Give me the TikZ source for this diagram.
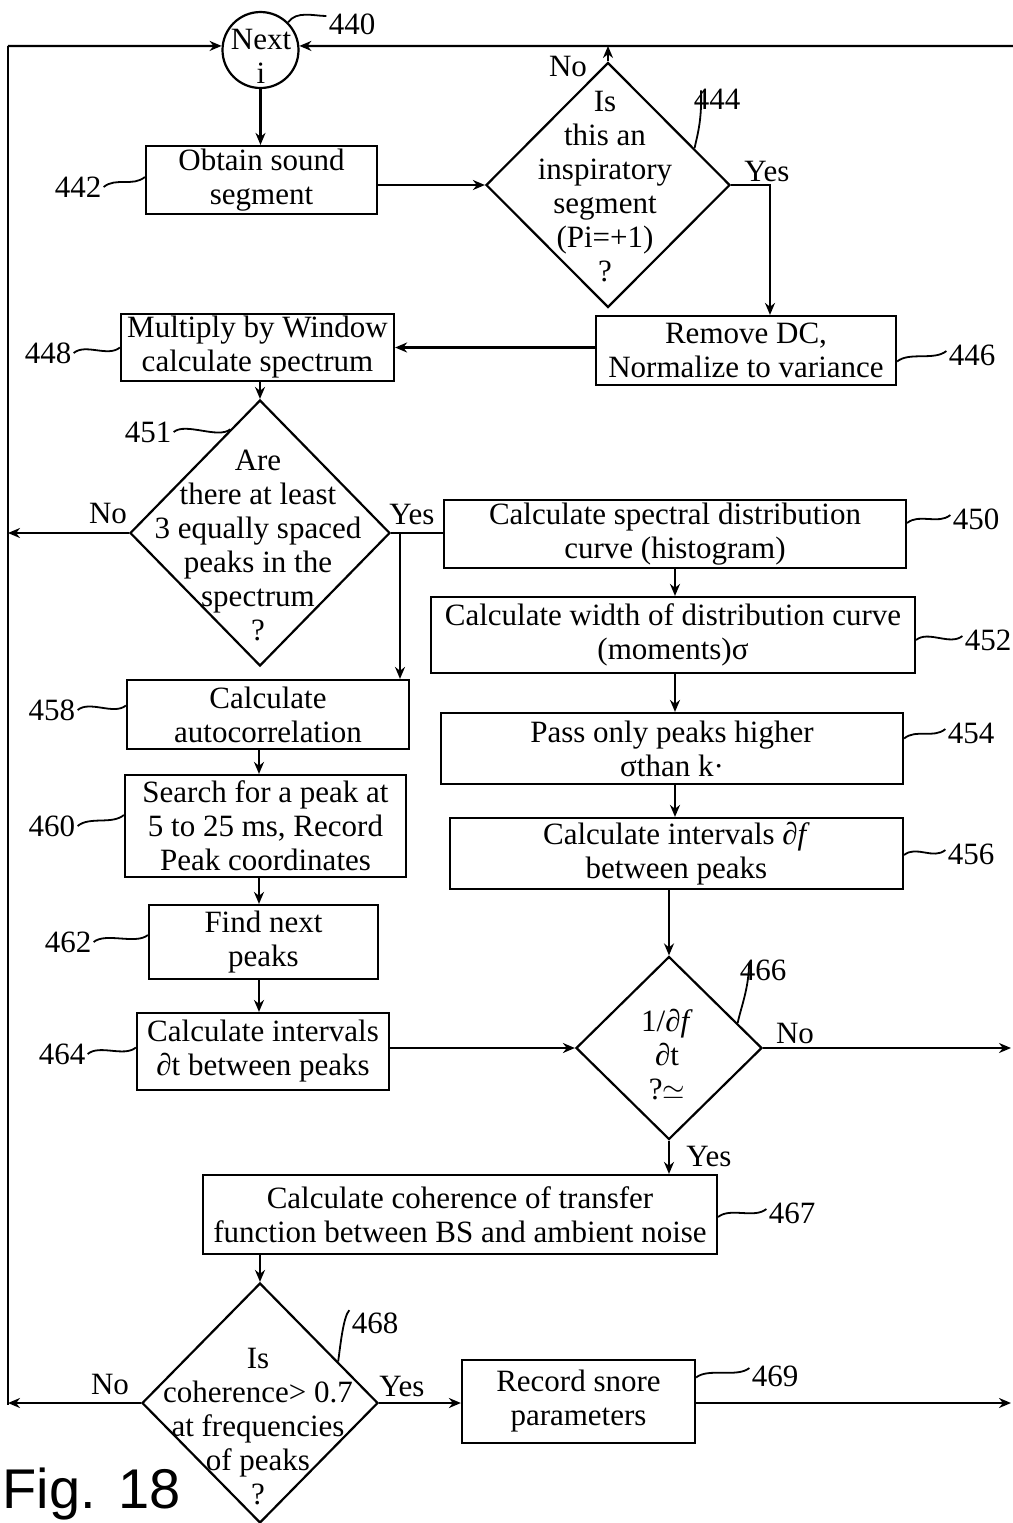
\documentclass[tikz,border=0pt]{standalone}
\usepackage{fontspec}
\setmainfont{Liberation Serif}
\newfontfamily\figsans{Liberation Sans}
\usetikzlibrary{shapes.geometric,arrows.meta}
\newcommand\myfs{\fontsize{15.5}{17}\selectfont}
\begin{document}
\begin{tikzpicture}[x=0.5pt,y=-0.5pt,
  box/.style={draw,line width=1.1pt,inner sep=0pt,align=center,font=\myfs},
  dia/.style={draw,diamond,line width=1.1pt,inner sep=0pt},
  txt/.style={align=center,font=\myfs,inner sep=0pt},
  num/.style={font=\myfs,inner sep=1pt},
  conn/.style={line width=1.1pt},
  arr/.style={conn,-{Stealth[length=6pt,width=5pt]}},
  lead/.style={line width=0.9pt},
  figt/.style={font=\figsans\fontsize{28}{30}\selectfont,anchor=base west,inner sep=0pt}]
\clip (0,0) rectangle (1013,1523);
\fill[white] (0,0) rectangle (1013,1523);

% ---------- main nodes ----------
\node[draw,circle,line width=1.1pt,minimum size=38pt,inner sep=0pt] (c440) at (260.5,50) {};
\node[txt] (t440) at (261,56) {Next\\i};

\node[box,minimum width=115.5pt,minimum height=34pt] (b442) at (261.5,180) {Obtain sound\\segment};
\node[dia,minimum width=122pt,minimum height=122.5pt] (d444) at (608,185) {};
\node[txt] (t444) at (605,187) {Is\\this an\\inspiratory\\segment\\(Pi=+1)\\?};

\node[box,minimum width=150pt,minimum height=34.5pt] (b446) at (746,350.5) {Remove DC,\\Normalize to variance};
\node[box,minimum width=136.5pt,minimum height=33.5pt] (b448) at (257.5,347.5) {Multiply by Window\\calculate spectrum};

\node[dia,minimum width=130pt,minimum height=133pt] (d451) at (260,533) {};
\node[txt] (t451) at (258,545) {Are\\there at least\\3 equally spaced\\peaks in the\\spectrum\\?};

\node[box,minimum width=231pt,minimum height=34pt] (b450) at (675,534) {Calculate spectral distribution\\curve (histogram)};
\node[box,minimum width=242pt,minimum height=38pt] (b452) at (673,635) {Calculate width of distribution curve\\(moments)σ};
\node[box,minimum width=231pt,minimum height=35.5pt] (b454) at (672,748.5) {Pass only peaks higher\\σthan k·};
\node[box,minimum width=226.5pt,minimum height=35.5pt] (b456) at (676.5,853.5) {Calculate intervals ∂\textit{f}\\between peaks};

\node[box,minimum width=141pt,minimum height=34.5pt] (b458) at (268,714.5) {Calculate\\autocorrelation};
\node[box,minimum width=140.5pt,minimum height=51pt] (b460) at (265.5,826) {Search for a peak at\\5 to 25 ms, Record\\Peak coordinates};
\node[box,minimum width=114.5pt,minimum height=37pt] (b462) at (263.5,942) {Find next\\peaks};
\node[box,minimum width=126pt,minimum height=38.5pt] (b464) at (263,1051.5) {Calculate intervals\\∂t between peaks};

\node[dia,minimum width=93pt,minimum height=91.5pt] (d466) at (669,1048) {};
\node[txt] (t466) at (667,1055) {1/∂\textit{f}\\∂t\\?$\simeq$};

\node[box,minimum width=257pt,minimum height=39.5pt] (b467) at (460,1214.5) {Calculate coherence of transfer\\function between BS and ambient noise};

\node[dia,minimum width=118pt,minimum height=120pt] (d468) at (260,1403) {};
\node[txt] (t468) at (258,1427) {Is\\coherence> 0.7\\at frequencies\\of peaks\\?};

\node[box,minimum width=116.5pt,minimum height=41.5pt] (b469) at (578.5,1401.5) {Record snore\\parameters};

% ---------- helper coordinates ----------
\coordinate (L) at (8,0);
\coordinate (R) at (1011,0);
\coordinate (colL) at (259,0);
\coordinate (tl) at (8,46);
\coordinate (tr) at (1013,46);
\coordinate (bl) at (8,1405);
\coordinate (yb) at (400,533);

% ---------- connectors ----------
\draw[conn] (tl) -- (bl);
\draw[arr] (tl) -- (c440.174);
\draw[arr] (tr) -- (c440.6);
\draw[arr] (c440.south) -- (b442.north -| c440.south);
\draw[arr] (b442.east |- d444.west) -- (d444.west);
\draw[arr] (d444.north) -- (d444.north |- tr);
\draw[arr] (d444.east) -| ([xshift=12pt]b446.north);
\draw[arr] (b446.west |- b448.east) -- (b448.east);
\draw[arr] (b448.south -| d451.north) -- (d451.north);
\draw[arr] (d451.west) -- (d451.west -| L);
\draw[conn] (d451.east) -- (d451.east -| b450.west);
\draw[arr] (yb) -- (yb |- b458.north);
\draw[arr] (b450.south) -- (b450.south |- b452.north);
\draw[arr] (b452.south -| b450.south) -- (b454.north -| b450.south);
\draw[arr] (b454.south -| b450.south) -- (b456.north -| b450.south);
\draw[arr] (d466.north |- b456.south) -- (d466.north);
\draw[arr] (b458.south -| colL) -- (b460.north -| colL);
\draw[arr] (b460.south -| colL) -- (b462.north -| colL);
\draw[arr] (b462.south -| colL) -- (b464.north -| colL);
\draw[arr] (b464.east |- d466.west) -- (d466.west);
\draw[arr] (d466.east) -- (d466.east -| R);
\draw[arr] (d466.south) -- (d466.south |- b467.north);
\draw[arr] (b467.south -| d468.north) -- (d468.north);
\draw[arr] (d468.west) -- (d468.west -| L);
\draw[arr] (d468.east) -- (b469.west |- d468.east);
\draw[arr] (b469.east |- d468.east) -- (R |- d468.east);

% ---------- yes / no ----------
\node[txt] (no444) at (568,66) {No};
\node[txt] (yes444) at (767,171) {Yes};
\node[txt] (no451) at (108,513) {No};
\node[txt] (yes451) at (412,514) {Yes};
\node[txt] (no466) at (795,1033) {No};
\node[txt] (yes466) at (709,1156) {Yes};
\node[txt] (no468) at (110,1384) {No};
\node[txt] (yes468) at (402,1386) {Yes};

% ---------- reference numerals ----------
\node[num] (n440) at (352,24) {440};
\node[num] (n442) at (78,187) {442};
\node[num] (n444) at (717,99) {444};
\node[num] (n446) at (972,355) {446};
\node[num] (n448) at (48,353) {448};
\node[num] (n451) at (148,432) {451};
\node[num] (n450) at (976,519) {450};
\node[num] (n452) at (988,640) {452};
\node[num] (n458) at (52,710) {458};
\node[num] (n454) at (971,733) {454};
\node[num] (n460) at (52,826) {460};
\node[num] (n456) at (971,854) {456};
\node[num] (n462) at (68,942) {462};
\node[num] (n466) at (763,970) {466};
\node[num] (n464) at (62,1054) {464};
\node[num] (n467) at (792,1213) {467};
\node[num] (n468) at (375,1323) {468};
\node[num] (n469) at (775,1376) {469};

% ---------- leaders ----------
\draw[lead] (c440.45) .. controls +(8,-12) and +(-12,0) .. ([yshift=4pt]n440.west);
\draw[lead] (n442.east) .. controls +(12,-10) and +(-12,10) .. ([yshift=1.5pt]b442.west);
\draw[lead] (n448.east) .. controls +(12,-10) and +(-12,10) .. (b448.west);
\draw[lead] (n451.east) .. controls +(12,-10) and +(-12,10) .. (d451.106);
\draw[lead] (n458.east) .. controls +(12,-10) and +(-12,10) .. ([yshift=4.5pt]b458.west);
\draw[lead] (n460.east) .. controls +(12,-10) and +(-12,10) .. ([yshift=5.5pt]b460.west);
\draw[lead] (n462.east) .. controls +(12,-10) and +(-12,10) .. ([yshift=3.5pt]b462.west);
\draw[lead] (n464.east) .. controls +(12,-10) and +(-12,10) .. ([yshift=2pt]b464.west);
\draw[lead] ([yshift=-5.5pt]b446.east) .. controls +(12,-10) and +(-12,10) .. ([yshift=2pt]n446.west);
\draw[lead] ([yshift=5.5pt]b450.east) .. controls +(12,-10) and +(-12,10) .. ([yshift=2pt]n450.west);
\draw[lead] ([yshift=-2.5pt]b452.east) .. controls +(12,-10) and +(-12,10) .. ([yshift=2pt]n452.west);
\draw[lead] ([yshift=5pt]b454.east) .. controls +(12,-10) and +(-12,10) .. ([yshift=2pt]n454.west);
\draw[lead] ([yshift=-0.75pt]b456.east) .. controls +(12,-10) and +(-12,10) .. ([yshift=2pt]n456.west);
\draw[lead] ([yshift=-1.25pt]b467.east) .. controls +(12,-10) and +(-12,10) .. ([yshift=2pt]n467.west);
\draw[lead] ([yshift=12pt]b469.east) .. controls +(12,-10) and +(-12,10) .. ([yshift=4pt]n469.west);
\draw[lead] ([xshift=-8pt,yshift=-2pt]n444.north) .. controls +(1,30) and +(3,-14) .. (d444.23.5);
\draw[lead] ([xshift=-7pt,yshift=-3pt]n466.north) .. controls +(0,25) and +(3,-15) .. (d466.20);
\draw[lead] (n468.north west) .. controls +(-6,6) and +(2,-15) .. (d468.28);

% ---------- figure title ----------
\node[figt] (figA) at (2,1508) {Fig.};
\node[figt] (figB) at (118,1508) {18};
\end{tikzpicture}
\end{document}
